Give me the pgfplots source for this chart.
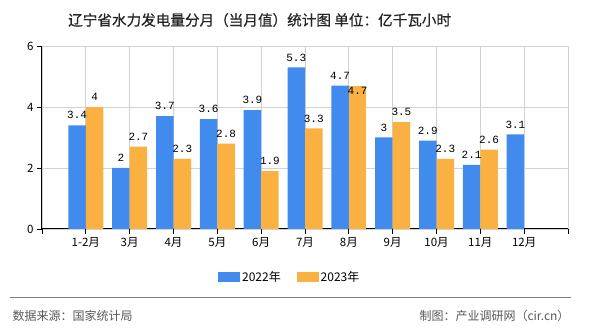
\documentclass[border=0pt]{standalone}
\usepackage{fontspec}
\setmainfont{Noto Sans CJK SC}
\newfontfamily\titlefont[FakeBold=0.6]{Noto Sans CJK SC}
\newfontfamily\monof{Liberation Mono}
\usepackage{pgfplots}
\pgfplotsset{compat=1.18}
\definecolor{cblue}{RGB}{66,139,238}
\definecolor{corange}{RGB}{251,177,66}
\begin{document}
\begin{tikzpicture}
\path[use as bounding box, fill=white] (0,0) rectangle (590bp,330bp);
\node[anchor=west, inner sep=0pt, text=black!85] at (68bp,310bp) {\titlefont\fontsize{14.6bp}{16bp}\selectfont 辽宁省水力发电量分月（当月值）统计图 单位：亿千瓦小时};
\begin{axis}[
 at={(42bp,101bp)}, anchor=south west,
 scale only axis, width=526bp, height=183bp,
 xmin=-1, xmax=11, ymin=0, ymax=6,
 axis lines=left, axis line style={-, black, line width=1bp},
 xtick={-1,...,11},
 xticklabels={,1-2月,3月,4月,5月,6月,7月,8月,9月,10月,11月,12月,},
 ytick={0,2,4,6},
 grid=major, major grid style={gray!35, line width=0.8bp},
 tick align=outside, major tick length=5bp, tick style={black, line width=0.8bp},
 tick label style={font=\fontsize{11.5bp}{12bp}\selectfont},
 /pgf/number format/assume math mode=true,
 ybar=0pt, bar width=17.5bp,
 nodes near coords,
 nodes near coords style={font=\monof\fontsize{11bp}{12bp}\selectfont, anchor=south, inner sep=2bp, yshift=4bp, text=black},
 legend style={at={(0.471,-0.262)}, anchor=center, draw=none, fill=none, legend columns=2, font=\fontsize{12bp}{13bp}\selectfont, /tikz/every even column/.append style={column sep=14bp}},
 legend image code/.code={\fill (0bp,-5bp) rectangle (22bp,5bp);},
]
\addplot[fill=cblue, draw=none, bar shift=-8.75bp] coordinates {(0,3.4)(1,2)(2,3.7)(3,3.6)(4,3.9)(5,5.3)(6,4.7)(7,3)(8,2.9)(9,2.1)(10,3.1)};
\addplot[fill=corange, draw=none, bar shift=8.75bp] coordinates {(0,4)(1,2.7)(2,2.3)(3,2.8)(4,1.9)(5,3.3)(7,3.5)(8,2.3)(9,2.6)};
\addplot[fill=corange, draw=none, bar shift=8.75bp, forget plot, nodes near coords style={anchor=north, yshift=-3bp}] coordinates {(6,4.7)};
\legend{2022年,2023年}
\end{axis}
\draw[gray, line width=1bp] (10bp,32bp) -- (571bp,32bp);
\node[anchor=west, text=black!65, font=\fontsize{12bp}{13bp}\selectfont] at (9bp,14bp) {数据来源：国家统计局};
\node[anchor=east, text=black!65, font=\fontsize{12bp}{13bp}\selectfont] at (573bp,14bp) {制图：产业调研网（cir.cn）};
\end{tikzpicture}
\end{document}
